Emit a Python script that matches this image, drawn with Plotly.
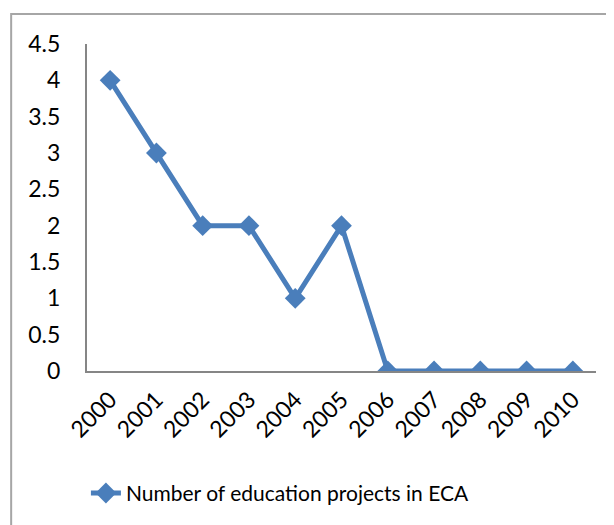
"""Education projects in ECA line chart"""
import plotly.graph_objects as go

years = ["2000", "2001", "2002", "2003", "2004", "2005", "2006", "2007", "2008", "2009", "2010"]
projects = [4, 3, 2, 2, 1, 2, 0, 0, 0, 0, 0]
y_ticks = [0, 0.5, 1, 1.5, 2, 2.5, 3, 3.5, 4, 4.5]
y_labels = ["0", "0.5", "1", "1.5", "2", "2.5", "3", "3.5", "4", "4.5"]

blue = "#4A7EBB"
axis_grey = "#868686"
font = "Lato, Open Sans, sans-serif"

fig = go.Figure()
fig.add_trace(
    go.Scatter(
        x=years,
        y=projects,
        mode="lines+markers",
        name="Number of education projects in ECA",
        line=dict(color=blue, width=5),
        marker=dict(symbol="diamond", size=16, color=blue),
    )
)

# the page body adds 8px on the top and left, so the figure is 8px smaller
fig.update_layout(
    width=606,
    height=517,
    margin=dict(l=79, r=18, t=36, b=153),
    paper_bgcolor="white",
    plot_bgcolor="white",
    font=dict(family=font, size=21, color="black"),
    showlegend=True,
    legend=dict(
        orientation="h",
        x=0.38,
        xanchor="center",
        y=-0.37,
        yanchor="middle",
        font=dict(size=21),
    ),
    shapes=[
        dict(
            type="rect",
            xref="paper",
            yref="paper",
            x0=-0.149,
            x1=1.06,
            y0=-0.5,
            y1=1.0915,
            line=dict(color="#A6A6A6", width=2),
            layer="below",
        )
    ],
)
fig.update_xaxes(
    type="category",
    range=[-0.5, 10.5],
    showline=True,
    linecolor=axis_grey,
    linewidth=2,
    showgrid=False,
    ticks="outside",
    ticklen=4,
    tickcolor="rgba(0,0,0,0)",
    tickangle=-45,
    tickfont=dict(size=23),
    automargin=False,
)
fig.update_yaxes(
    range=[0, 4.5],
    tickvals=y_ticks,
    ticktext=y_labels,
    showline=True,
    linecolor=axis_grey,
    linewidth=2,
    showgrid=False,
    zeroline=False,
    ticks="outside",
    ticklen=20,
    tickcolor="rgba(0,0,0,0)",
    tickfont=dict(size=23),
    automargin=False,
)

fig.write_html("out.html")
